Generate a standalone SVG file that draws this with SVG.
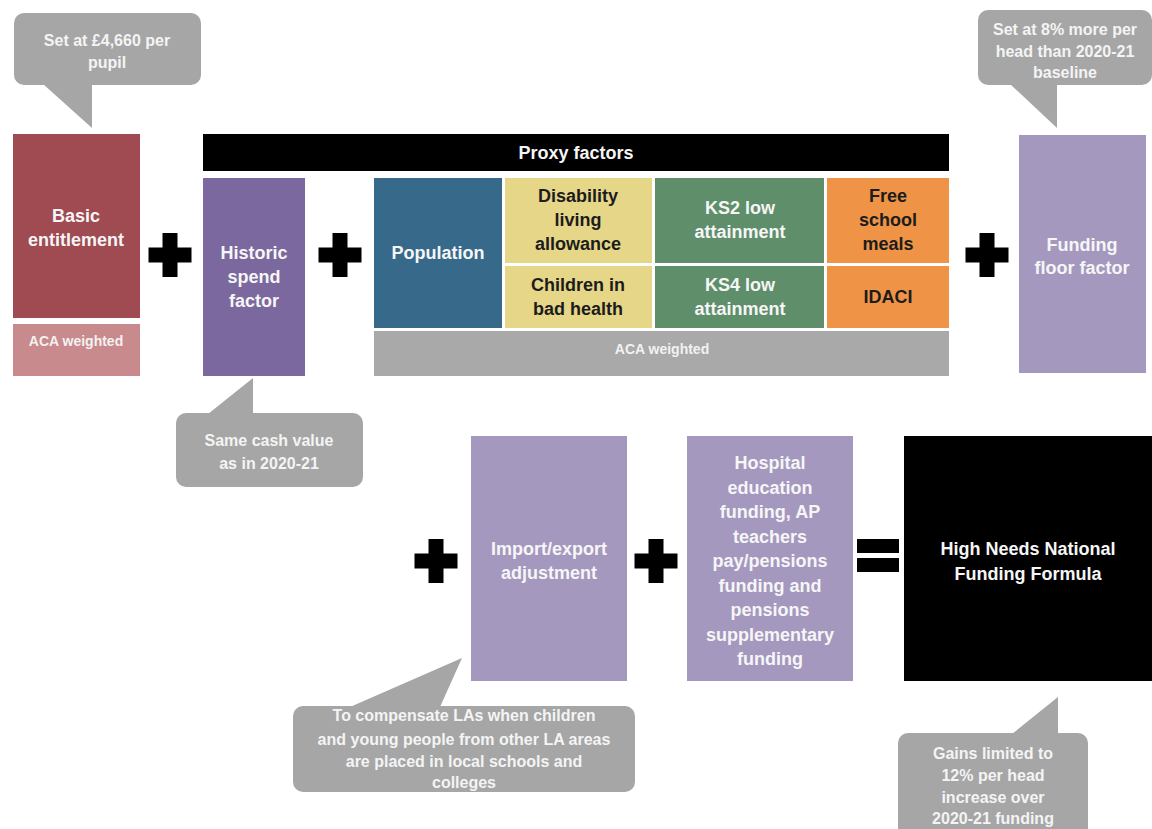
<svg xmlns="http://www.w3.org/2000/svg" width="1152" height="829" viewBox="0 0 1152 829">
<style>
text{font-family:"Liberation Sans",Arial,sans-serif;font-weight:bold;text-anchor:middle}
.t18{font-size:18px;fill:#f6f6f6}
.d18{font-size:18px;fill:#1c1c1c}
.t16{font-size:16px;fill:#f4f4f4}
.t14{font-size:14px;fill:#f2f2f2}
.call{fill:#a6a6a6}
.op{fill:#000}
</style>
<rect width="1152" height="829" fill="#fff"/>

<g id="callout-basic">
<rect class="call" x="14" y="13" width="187" height="72" rx="10"/>
<polygon class="call" points="43,84 92,84 92,128"/>
<text class="t16" x="107" y="46">Set at £4,660 per</text>
<text class="t16" x="107" y="68">pupil</text>
</g>

<g id="callout-floor">
<rect class="call" x="978" y="10" width="174" height="75" rx="10"/>
<polygon class="call" points="1010,84 1057,84 1057,128"/>
<text class="t16" x="1065" y="35">Set at 8% more per</text>
<text class="t16" x="1065" y="57">head than 2020-21</text>
<text class="t16" x="1065" y="78">baseline</text>
</g>

<g id="basic-entitlement">
<rect x="13" y="134" width="127" height="184" fill="#a04a52"/>
<rect x="13" y="324" width="127" height="52" fill="#c98a8d"/>
<text class="t18" x="76" y="222">Basic</text>
<text class="t18" x="76" y="246">entitlement</text>
<text class="t14" x="76" y="346">ACA weighted</text>
</g>

<g id="proxy-header">
<rect x="203" y="134" width="746" height="37" fill="#000"/>
<text class="t18" x="576" y="159">Proxy factors</text>
</g>

<g id="historic-spend">
<rect x="203" y="178" width="102" height="198" fill="#7b689e"/>
<text class="t18" x="254" y="259">Historic</text>
<text class="t18" x="254" y="283">spend</text>
<text class="t18" x="254" y="307">factor</text>
</g>

<g id="population">
<rect x="374" y="178" width="128" height="150" fill="#37698b"/>
<text class="t18" x="438" y="259">Population</text>
</g>

<g id="disability">
<rect x="505" y="178" width="147" height="85" fill="#e6d688"/>
<text class="d18" x="578" y="202">Disability</text>
<text class="d18" x="578" y="226">living</text>
<text class="d18" x="578" y="250">allowance</text>
</g>

<g id="bad-health">
<rect x="505" y="266" width="147" height="62" fill="#e6d688"/>
<text class="d18" x="578" y="291">Children in</text>
<text class="d18" x="578" y="315">bad health</text>
</g>

<g id="ks2">
<rect x="655" y="178" width="169" height="85" fill="#5f8e6b"/>
<text class="t18" x="740" y="214">KS2 low</text>
<text class="t18" x="740" y="238">attainment</text>
</g>

<g id="ks4">
<rect x="655" y="266" width="169" height="62" fill="#5f8e6b"/>
<text class="t18" x="740" y="291">KS4 low</text>
<text class="t18" x="740" y="315">attainment</text>
</g>

<g id="fsm">
<rect x="827" y="178" width="122" height="85" fill="#ef9446"/>
<text class="d18" x="888" y="202">Free</text>
<text class="d18" x="888" y="226">school</text>
<text class="d18" x="888" y="250">meals</text>
</g>

<g id="idaci">
<rect x="827" y="266" width="122" height="62" fill="#ef9446"/>
<text class="d18" x="888" y="303">IDACI</text>
</g>

<g id="proxy-aca">
<rect x="374" y="331" width="575" height="45" fill="#a9a9a9"/>
<text class="t14" x="662" y="354">ACA weighted</text>
</g>

<g id="funding-floor">
<rect x="1019" y="135" width="127" height="238" fill="#a598bf"/>
<text class="t18" x="1082" y="251">Funding</text>
<text class="t18" x="1082" y="274">floor factor</text>
</g>

<g id="callout-historic">
<rect class="call" x="176" y="413" width="187" height="74" rx="10"/>
<polygon class="call" points="208,414 253,378 253,414"/>
<text class="t16" x="269" y="446">Same cash value</text>
<text class="t16" x="269" y="469">as in 2020-21</text>
</g>

<g id="import-export">
<rect x="471" y="436" width="156" height="245" fill="#a598bf"/>
<text class="t18" x="549" y="555">Import/export</text>
<text class="t18" x="549" y="579">adjustment</text>
</g>

<g id="hospital">
<rect x="687" y="436" width="166" height="245" fill="#a598bf"/>
<text class="t18" x="770" y="469">Hospital</text>
<text class="t18" x="770" y="494">education</text>
<text class="t18" x="770" y="518">funding, AP</text>
<text class="t18" x="770" y="543">teachers</text>
<text class="t18" x="770" y="567">pay/pensions</text>
<text class="t18" x="770" y="592">funding and</text>
<text class="t18" x="770" y="616">pensions</text>
<text class="t18" x="770" y="641">supplementary</text>
<text class="t18" x="770" y="665">funding</text>
</g>

<g id="hnnff">
<rect x="904" y="436" width="248" height="245" fill="#000"/>
<text class="t18" x="1028" y="555">High Needs National</text>
<text class="t18" x="1028" y="580">Funding Formula</text>
</g>

<g id="callout-import">
<rect class="call" x="293" y="706" width="342" height="86" rx="10"/>
<polygon class="call" points="350,707 462,658 440,707"/>
<text class="t16" x="464" y="721">To compensate LAs when children</text>
<text class="t16" x="464" y="745">and young people from other LA areas</text>
<text class="t16" x="464" y="767">are placed in local schools and</text>
<text class="t16" x="464" y="788">colleges</text>
</g>

<g id="callout-gains">
<rect class="call" x="898" y="733" width="190" height="110" rx="10"/>
<polygon class="call" points="1012,734 1058,697 1058,734"/>
<text class="t16" x="993" y="759">Gains limited to</text>
<text class="t16" x="993" y="781">12% per head</text>
<text class="t16" x="993" y="803">increase over</text>
<text class="t16" x="993" y="824">2020-21 funding</text>
</g>

<g id="connectors">
<defs>
<path id="plus" d="M-7.5,-22 H7.5 V-7.5 H21.5 V7.5 H7.5 V22 H-7.5 V7.5 H-21.5 V-7.5 H-7.5 Z"/>
</defs>
<use href="#plus" class="op" x="170" y="255"/>
<use href="#plus" class="op" x="340" y="255"/>
<use href="#plus" class="op" x="987" y="255"/>
<use href="#plus" class="op" x="436" y="561"/>
<use href="#plus" class="op" x="656" y="561"/>
<rect class="op" x="857" y="539" width="42" height="14"/>
<rect class="op" x="857" y="558" width="42" height="14"/>
</g>
</svg>
